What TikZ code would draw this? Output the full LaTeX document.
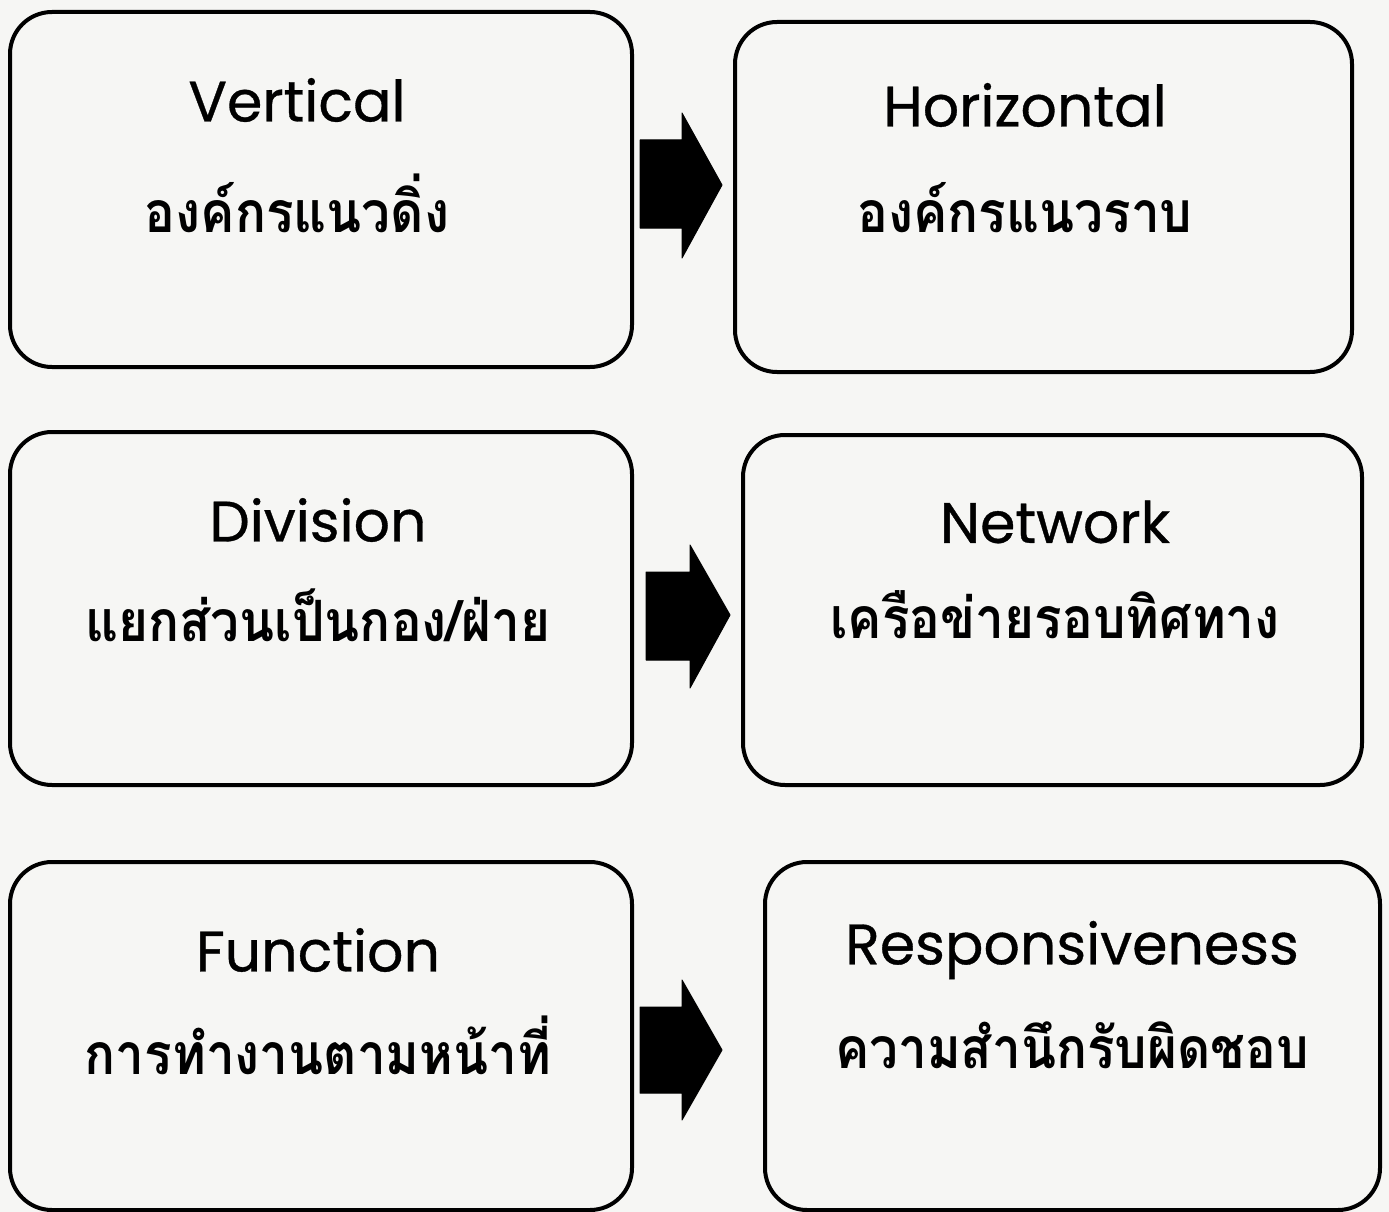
\documentclass[tikz,border=0pt]{standalone}
\usepackage{fontspec}
\setmainfont{Poppins}
\newfontfamily\enfont[FakeBold=0.6]{Poppins}
\newfontfamily\thaifont[Script=Thai,FakeStretch=0.9]{Loma}
\definecolor{paper}{HTML}{F6F6F4}
\begin{document}
\begin{tikzpicture}[x=1pt,y=-1pt,
  card/.style={draw=black, line width=4pt, rounded corners=42pt, fill=paper},
  entxt/.style={font=\enfont\fontsize{57}{66}\selectfont, anchor=center},
  thtxt/.style={font=\thaifont\bfseries\fontsize{57}{68}\selectfont, anchor=center},
  bigarrow/.style={fill=black, draw=black, line width=1pt, line join=round}]
\fill[paper] (0,0) rectangle (1389,1212);
\useasboundingbox (0,0) rectangle (1389,1212);
% boxes
\draw[card] (10,12) rectangle (632,367);
\draw[card] (735,22) rectangle (1352,372);
\draw[card] (10,432) rectangle (632,785);
\draw[card] (743,435) rectangle (1362,785);
\draw[card] (10,862) rectangle (632,1210);
\draw[card] (765,862) rectangle (1380,1210);
% texts
\node[entxt] (t1) at (297,100) {Vertical};
\node[thtxt] (s1) at (297,203) {องค์กรแนวดิ่ง};
\node[entxt] (t2) at (1025,105) {Horizontal};
\node[thtxt] (s2) at (1025,208) {องค์กรแนวราบ};
\node[entxt] (t3) at (318,520) {Division};
\node[thtxt] (s3) at (318,615) {แยกส่วนเป็นกอง/ฝ่าย};
\node[entxt] (t4) at (1055,522) {Network};
\node[thtxt] (s4) at (1055,615) {เครือข่ายรอบทิศทาง};
\node[entxt] (t5) at (318,950) {Function};
\node[thtxt] (s5) at (318,1045) {การทำงานตามหน้าที่};
\node[entxt] (t6) at (1072,950) {Responsiveness};
\node[thtxt] (s6) at (1072,1045) {ความสำนึกรับผิดชอบ};
% arrows
\fill[bigarrow] (640,140) -- (682,140) -- (682,113) -- (722,185) -- (682,258) -- (682,228) -- (640,228) -- cycle;
\fill[bigarrow] (646,572) -- (690,572) -- (690,545) -- (730,615) -- (690,688) -- (690,660) -- (646,660) -- cycle;
\fill[bigarrow] (640,1007) -- (682,1007) -- (682,980) -- (722,1050) -- (682,1120) -- (682,1093) -- (640,1093) -- cycle;
\end{tikzpicture}
\end{document}
